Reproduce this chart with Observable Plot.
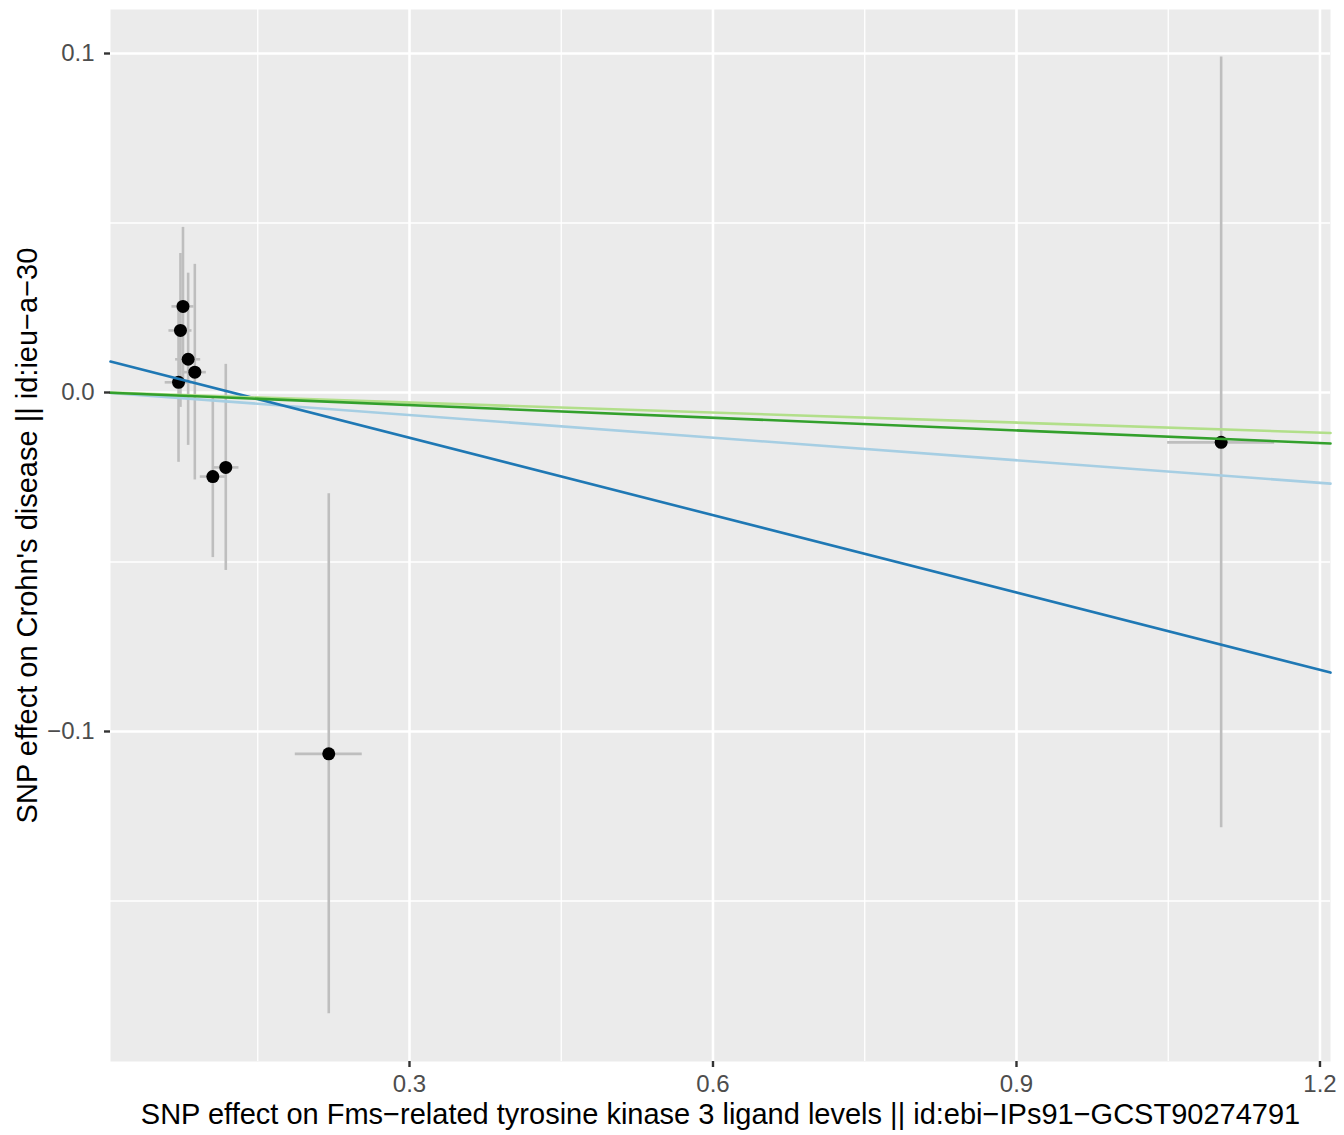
<!DOCTYPE html>
<html>
<head>
<meta charset="utf-8">
<script src="https://cdn.jsdelivr.net/npm/d3@7"></script>
<script src="https://cdn.jsdelivr.net/npm/@observablehq/plot@0.6"></script>
<style>
  html, body { margin: 0; padding: 0; background: #ffffff; }
</style>
</head>
<body>
<div id="chart"></div>
<script>
// SNP effects
const betaExposure = [0.0761, 0.0736, 0.0812, 0.0878, 0.0717, 0.1056, 0.1184, 0.2202, 1.1023];
const seExposure   = [0.0109, 0.0114, 0.0124, 0.0114, 0.0132, 0.0124, 0.0130, 0.0331, 0.0529];
const betaOutcome  = [0.0254, 0.0183, 0.0098, 0.0060, 0.0030, -0.0248, -0.0221, -0.1066, -0.0147];
const seOutcome    = [0.0233, 0.0227, 0.0254, 0.0318, 0.0236, 0.0239, 0.0304, 0.0767, 0.1137];

// MR method fits
const methods    = ["Inverse variance weighted", "MR Egger", "Weighted median", "Weighted mode"];
const slopes     = [-0.0222, -0.0761, -0.00987, -0.01243];
const intercepts = [0, 0.00948, 0, 0];
const methodColors = ["#a6cee3", "#1f78b4", "#b2df8a", "#33a02c"];

// Axes
const xDomain = [0.00445, 1.2104];
const yDomain = [-0.19735, 0.11298];
const xTicks = [0.3, 0.6, 0.9, 1.2];
const xMinor = [0.15, 0.45, 0.75, 1.05];
const yTicks = [-0.1, 0.0, 0.1];
const yMinor = [-0.15, -0.05, 0.05];
const xTitle = "SNP effect on Fms\u2212related tyrosine kinase 3 ligand levels || id:ebi\u2212IPs91\u2212GCST90274791";
const yTitle = "SNP effect on Crohn's disease || id:ieu\u2212a\u221230";

const snps = betaExposure.map((bx, i) => ({
  bx, by: betaOutcome[i], sx: seExposure[i], sy: seOutcome[i]
}));

const fitLines = methods.flatMap((m, i) =>
  xDomain.map(x => ({method: m, x, y: intercepts[i] + slopes[i] * x}))
);

const chart = Plot.plot({
  width: 1344,
  height: 1135,
  marginLeft: 110,
  marginRight: 14,
  marginTop: 9,
  marginBottom: 74,
  style: {fontFamily: "'Liberation Sans', Arial, Helvetica, sans-serif", background: "#ffffff", color: "#000"},
  x: {domain: xDomain},
  y: {domain: yDomain},
  color: {domain: methods, range: methodColors},
  marks: [
    Plot.frame({fill: "#ebebeb", stroke: null}),
    Plot.ruleX(xMinor, {stroke: "#ffffff", strokeWidth: 1.3}),
    Plot.ruleY(yMinor, {stroke: "#ffffff", strokeWidth: 1.3}),
    Plot.ruleX(xTicks, {stroke: "#ffffff", strokeWidth: 2.6}),
    Plot.ruleY(yTicks, {stroke: "#ffffff", strokeWidth: 2.6}),
    // vertical error bars (outcome)
    Plot.ruleX(snps, {x: "bx", y1: d => d.by - d.sy, y2: d => d.by + d.sy, stroke: "#bebebe", strokeWidth: 2.6}),
    // horizontal error bars (exposure)
    Plot.ruleY(snps, {y: "by", x1: d => d.bx - d.sx, x2: d => d.bx + d.sx, stroke: "#bebebe", strokeWidth: 2.6}),
    Plot.dot(snps, {x: "bx", y: "by", r: 6.5, fill: "#000000", stroke: null}),
    Plot.line(fitLines, {x: "x", y: "y", z: "method", stroke: "method", strokeWidth: 2.6}),
    Plot.axisX({ticks: xTicks, tickFormat: d3.format(".1f"), tickSize: 6, tickPadding: 7, strokeWidth: 2.4,
      stroke: "#333333", fill: "#4d4d4d", fontSize: 24, label: null}),
    Plot.axisY({ticks: yTicks, tickFormat: d3.format(".1f"), tickSize: 6, tickPadding: 10, strokeWidth: 2.4,
      stroke: "#333333", fill: "#4d4d4d", fontSize: 24, label: null}),
    Plot.text([xTitle], {text: d => d, frameAnchor: "bottom", dy: 53, textAnchor: "middle", lineAnchor: "middle", fontSize: 29, fill: "#000000"}),
    Plot.text([yTitle], {text: d => d, frameAnchor: "left", dx: -83, rotate: -90, textAnchor: "middle", lineAnchor: "middle", fontSize: 29, fill: "#000000"})
  ]
});

document.getElementById("chart").appendChild(chart);
</script>
</body>
</html>
